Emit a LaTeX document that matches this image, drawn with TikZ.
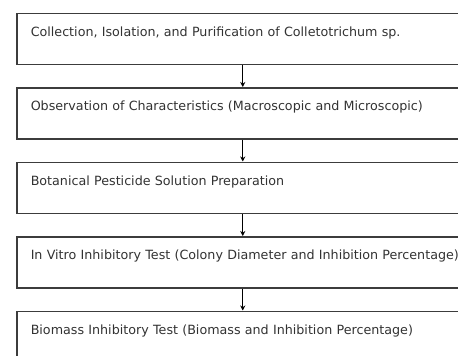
\documentclass[tikz,border=0pt]{standalone}
\usepackage{fontspec}
\setmainfont{DejaVu Sans}
\usetikzlibrary{arrows.meta}
\definecolor{boxline}{RGB}{60,60,60}
\definecolor{boxtext}{RGB}{50,50,50}
\tikzset{
  stepbox/.style={draw=boxline, line width=1.5pt, anchor=north west,
    minimum width=452pt, text width=424pt, inner xsep=14pt, inner ysep=0pt,
    text height=23pt, text depth=28pt, align=left, text=boxtext,
    font=\fontsize{12.7pt}{14pt}\selectfont},
  flow/.style={draw=black, line width=1.3pt, -{Stealth[length=5pt,width=5pt]}}
}
\begin{document}
\begin{tikzpicture}[x=1pt,y=-1pt]
\useasboundingbox (0,0) rectangle (458,356);
\clip (0,0) rectangle (458,356);
\node[stepbox] (b1) at (16,12.5) {\mbox{Collection, Isolation, and Purification of Colletotrichum sp.}};
\node[stepbox] (b2) at (16,87) {\mbox{Observation of Characteristics (Macroscopic and Microscopic)}};
\node[stepbox] (b3) at (16,161.5) {\mbox{Botanical Pesticide Solution Preparation}};
\node[stepbox] (b4) at (16,236) {\mbox{In Vitro Inhibitory Test (Colony Diameter and Inhibition Percentage)}};
\node[stepbox] (b5) at (16,310.5) {\mbox{Biomass Inhibitory Test (Biomass and Inhibition Percentage)}};
\draw[flow] (b1.south) -- (b2.north);
\draw[flow] (b2.south) -- (b3.north);
\draw[flow] (b3.south) -- (b4.north);
\draw[flow] (b4.south) -- (b5.north);
\end{tikzpicture}
\end{document}
